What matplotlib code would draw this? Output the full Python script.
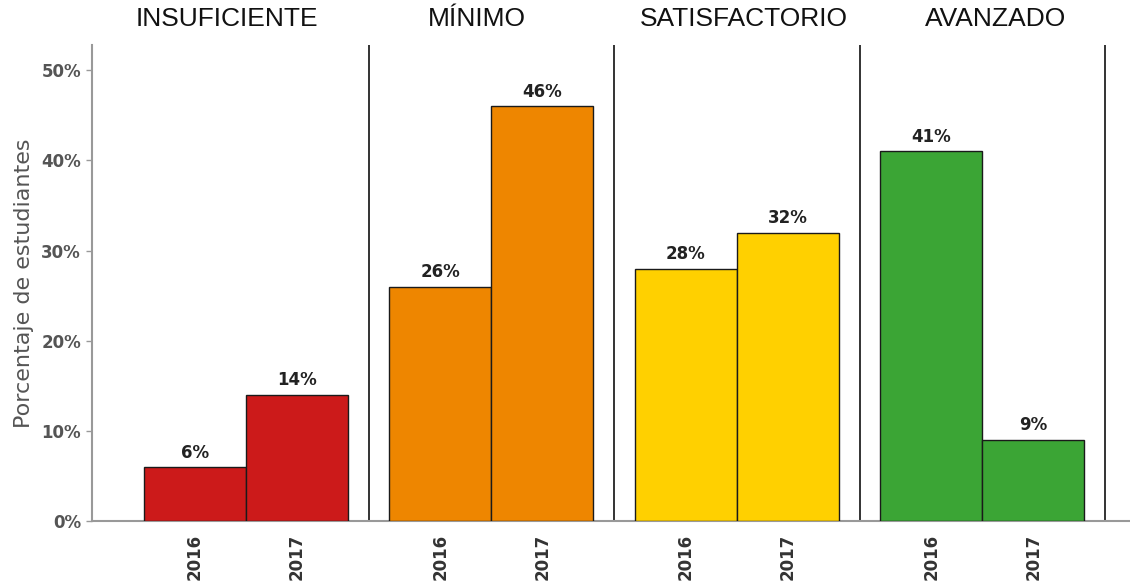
import numpy as np
import matplotlib.pyplot as plt

niveles = ['INSUFICIENTE', 'MÍNIMO', 'SATISFACTORIO', 'AVANZADO']
anios = ['2016', '2017']
pct_2016 = [6, 26, 28, 41]
pct_2017 = [14, 46, 32, 9]
colores = ['#CC1A1A', '#EE8600', '#FFD000', '#3BA535']

bar_w = 1.0
pitch = 2.41
# desplazamiento de los titulos respecto al centro de cada panel
desp_titulo = [-0.19, -0.14, 0.07, 0.13]

fig = plt.figure(figsize=(11.3, 5.86), dpi=100)
ax = fig.add_axes([92 / 1130, 1 - 521 / 586, 1 - 92 / 1130, (521 - 45) / 586])

centros = np.arange(len(niveles)) * pitch
for i, nivel in enumerate(niveles):
    vals = [pct_2016[i], pct_2017[i]]
    xs = [centros[i] - bar_w / 2, centros[i] + bar_w / 2]
    ax.bar(xs, vals, width=bar_w, color=colores[i], edgecolor='#1a1a1a', linewidth=1.0, zorder=3)
    for x, v in zip(xs, vals):
        ax.text(x, v + 0.6, f'{v}%', ha='center', va='bottom', fontsize=12,
                fontweight='bold', color='#222222')
    # separador a la derecha de cada panel
    ax.axvline(centros[i] + bar_w + 0.205, ymin=0, ymax=1, color='#111111', linewidth=1.2)
    ax.text(centros[i] + desp_titulo[i], 1.03, nivel, transform=ax.get_xaxis_transform(),
            ha='center', va='bottom', fontsize=19, family='Liberation Sans', color='#111111')

ticks_x = np.concatenate([[c - bar_w / 2, c + bar_w / 2] for c in centros])
ax.set_xticks(ticks_x)
ax.set_xticklabels(anios * len(niveles), rotation=90, fontsize=12, fontweight='bold',
                   color='#333333')
ax.tick_params(axis='x', length=0, pad=9)

ax.set_ylim(0, 52.8)
ax.set_yticks([0, 10, 20, 30, 40, 50])
ax.set_yticklabels([f'{t}%' for t in [0, 10, 20, 30, 40, 50]], fontsize=12,
                   fontweight='bold', color='#555555')
ax.tick_params(axis='y', length=4, width=1, color='#999999', pad=4)
ax.set_ylabel('Porcentaje de estudiantes', fontsize=16, color='#555555', labelpad=5)

ax.set_xlim(centros[0] - 1.51, centros[-1] + 1.45)
for s in ['top', 'right']:
    ax.spines[s].set_visible(False)
for s in ['left', 'bottom']:
    ax.spines[s].set_color('#999999')
    ax.spines[s].set_linewidth(1.5)

fig.savefig('out.png', dpi=100)
